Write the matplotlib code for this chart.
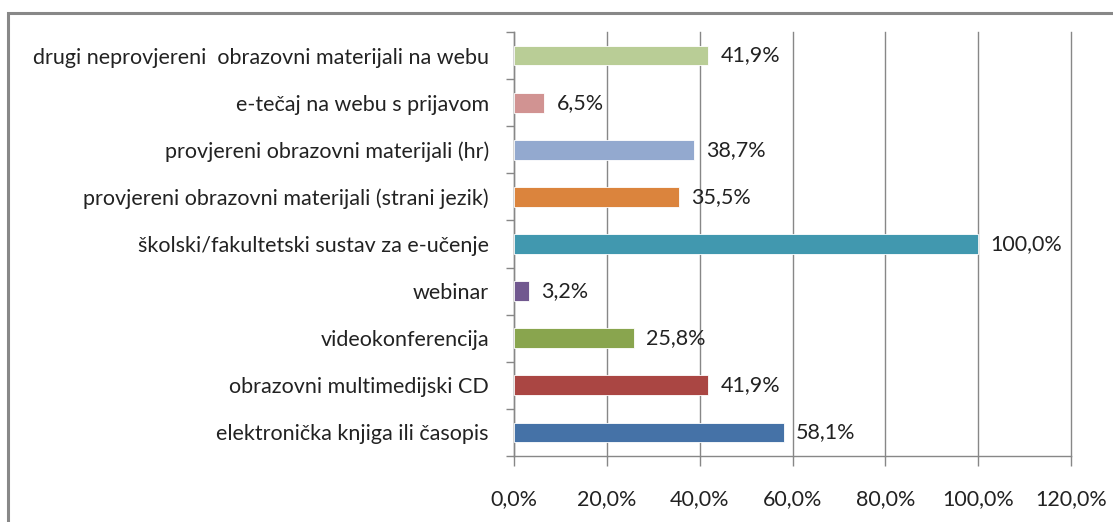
import numpy as np
import matplotlib.pyplot as plt
from matplotlib.patches import Rectangle
from matplotlib.ticker import MultipleLocator, FuncFormatter

plt.rcParams['font.family'] = ['Lato', 'DejaVu Sans']

kategorije = [
    "elektronička knjiga ili časopis",
    "obrazovni multimedijski CD",
    "videokonferencija",
    "webinar",
    "školski/fakultetski sustav za e-učenje",
    "provjereni obrazovni materijali (strani jezik)",
    "provjereni obrazovni materijali (hr)",
    "e-tečaj na webu s prijavom",
    "drugi neprovjereni  obrazovni materijali na webu",
]
postotci = [58.1, 41.9, 25.8, 3.2, 100.0, 35.5, 38.7, 6.5, 41.9]
boje = ["#4572A7", "#AA4643", "#89A54E", "#71588F", "#4198AF",
        "#DB843D", "#93A9CF", "#D19392", "#B9CD96"]

fs = 15.5

fig = plt.figure(figsize=(11.13, 5.22), dpi=100)
ax = fig.add_axes([0.4618, 0.1264, 0.5005, 0.8123])

y = np.arange(len(kategorije))
ax.barh(y, postotci, height=0.42, color=boje, edgecolor="white",
        linewidth=0.6, zorder=3)

for yi, v in zip(y, postotci):
    ax.annotate(f"{v:.1f}%".replace(".", ","), (v, yi), xytext=(9, 0),
                textcoords="offset points", va="center", ha="left",
                fontsize=fs, color="#222222", zorder=4)

ax.set_xlim(0, 120)
ax.set_ylim(-0.5, len(kategorije) - 0.5)
ax.xaxis.set_major_locator(MultipleLocator(20))
ax.xaxis.set_major_formatter(FuncFormatter(lambda v, p: f"{v:.1f}%".replace(".", ",")))
ax.grid(axis="x", color="#878787", linewidth=1.0, zorder=0)
for gl in ax.get_xgridlines():
    gl.set_clip_on(False)

ax.set_yticks(y)
ax.set_yticklabels(kategorije)
ax.set_yticks(np.arange(len(kategorije) + 1) - 0.5, minor=True)
ax.tick_params(axis="y", which="major", length=0, pad=18, labelsize=fs,
               labelcolor="#222222")
ax.tick_params(axis="y", which="minor", length=6, width=1, color="#878787")
ax.tick_params(axis="x", length=7, width=1, color="#878787", pad=17,
               labelsize=fs, labelcolor="#222222")

for s in ["top", "right"]:
    ax.spines[s].set_visible(False)
for s in ["left", "bottom"]:
    ax.spines[s].set_color("#878787")
    ax.spines[s].set_linewidth(1.0)

# okvir oko grafikona
fig.patches.append(Rectangle((8 / 1113, -0.1), 1.2, 1 - 13 / 522 + 0.1,
                             transform=fig.transFigure, fill=False,
                             edgecolor="#888888", linewidth=2.2))

fig.savefig("out.png", dpi=100)
